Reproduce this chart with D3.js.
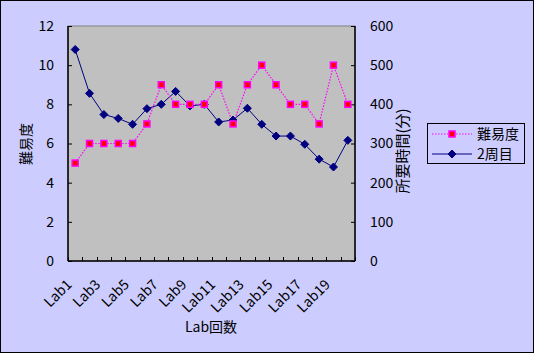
<!DOCTYPE html>
<html><head><meta charset="utf-8">
<script src="https://cdn.jsdelivr.net/npm/d3@7"></script>
<style>body{margin:0;background:#fff}svg text{font-family:"Noto Sans CJK JP","Noto Sans",sans-serif;}</style>
</head><body><svg id="c" width="534" height="353"></svg>
<script>
const categories = ["Lab1","Lab2","Lab3","Lab4","Lab5","Lab6","Lab7","Lab8","Lab9","Lab10","Lab11","Lab12","Lab13","Lab14","Lab15","Lab16","Lab17","Lab18","Lab19","Lab20"];
const difficulty = [5,6,6,6,6,7,9,8,8,8,9,7,9,10,9,8,8,7,10,8];
const timeMinutes = [540,428,374,364,349,389,400,433,396,400,355,360,390,349,319,319,298,260,240,308];
const leftTicks = [0,2,4,6,8,10,12];
const rightTicks = [0,100,200,300,400,500,600];
const seriesNames = ["難易度","2周目"];
const axisTitles = {left:"難易度", right:"所要時間(分)", bottom:"Lab回数"};

const svg = d3.select("#c");
const W=534,H=353;
const P={l:68,r:355,t:26,b:261};
svg.append("rect").attr("x",0.5).attr("y",0.5).attr("width",W-1).attr("height",H-1).attr("fill","#CCCCFF").attr("stroke","#000");
svg.append("rect").attr("x",P.l).attr("y",P.t).attr("width",P.r-P.l).attr("height",P.b-P.t).attr("fill","#C0C0C0").attr("stroke","#808080");

const x = d3.scaleBand().domain(categories).range([P.l,P.r]).padding(0);
const yL = d3.scaleLinear().domain([0,12]).range([P.b,P.t]);
const yR = d3.scaleLinear().domain([0,600]).range([P.b,P.t]);
const cx = d => x(d)+x.bandwidth()/2;

// axes
const gL = svg.append("g").attr("transform",`translate(${P.l},0)`)
  .call(d3.axisLeft(yL).tickValues(leftTicks).tickSize(-4).tickPadding(14));
const gR = svg.append("g").attr("transform",`translate(${P.r},0)`)
  .call(d3.axisRight(yR).tickValues(rightTicks).tickSize(-4).tickPadding(15));
const gB = svg.append("g").attr("transform",`translate(0,${P.b})`)
  .call(d3.axisBottom(x).tickSize(-4).tickFormat(""));
// category boundary ticks
gB.selectAll(".tick").remove();
const bounds = categories.map(c=>x(c)).concat([P.r]);
gB.selectAll("line.bt").data(bounds).enter().append("line").attr("class","bt")
  .attr("x1",d=>Math.round(d)+0.5).attr("x2",d=>Math.round(d)+0.5).attr("y1",0).attr("y2",-4).attr("stroke","#000");
[gL,gR,gB].forEach(g=>{g.select(".domain").attr("stroke","#000").attr("stroke-width",1.5);
  g.selectAll(".tick line").attr("stroke","#000");
  g.selectAll(".tick text").attr("fill","#000").attr("font-size",14);});
gB.select(".domain").attr("d",`M${P.l},0H${P.r}`);
gL.select(".domain").attr("d",`M0,${P.t}V${P.b}`);
gR.select(".domain").attr("d",`M0,${P.t}V${P.b}`);

// x labels
svg.append("g").selectAll("text").data(categories.filter((d,i)=>i%2===0)).enter().append("text")
  .attr("transform",d=>`translate(${cx(d)-6},${P.b+21}) rotate(-45)`)
  .attr("text-anchor","end").attr("dy","0.35em").attr("font-size",14).attr("fill","#000").text(d=>d);

// titles
svg.append("text").attr("transform",`translate(31,144) rotate(-90)`).attr("text-anchor","middle").attr("font-size",14).text(axisTitles.left);
svg.append("text").attr("transform",`translate(403,151) rotate(-90)`).attr("text-anchor","middle").attr("dy","0.35em").attr("font-size",15).text(axisTitles.right);
svg.append("text").attr("x",211).attr("y",332).attr("text-anchor","middle").attr("font-size",14).text(axisTitles.bottom);

// series lines
const lineD = d3.line().x((d,i)=>cx(categories[i])).y(d=>yL(d));
const lineT = d3.line().x((d,i)=>cx(categories[i])).y(d=>yR(d));
svg.append("path").datum(timeMinutes).attr("d",lineT).attr("fill","none").attr("stroke","#000080").attr("stroke-width",1);
svg.append("path").datum(difficulty).attr("d",lineD).attr("fill","none").attr("stroke","#FF00FF").attr("stroke-width",1.2).attr("stroke-dasharray","1.5,1.5");
const diamond = (px,py,s)=>`M${px},${py-s}L${px+s},${py}L${px},${py+s}L${px-s},${py}Z`;
svg.append("g").selectAll("path").data(timeMinutes).enter().append("path")
  .attr("d",(d,i)=>diamond(cx(categories[i]),yR(d),4)).attr("fill","#000080").attr("stroke","#000080");
svg.append("g").selectAll("rect").data(difficulty).enter().append("rect")
  .attr("x",(d,i)=>cx(categories[i])-3).attr("y",d=>yL(d)-3).attr("width",6).attr("height",6)
  .attr("fill","#FF0000").attr("stroke","#FF00FF").attr("stroke-width",1.5);

// legend
const lg = svg.append("g");
lg.append("rect").attr("x",427.5).attr("y",123.5).attr("width",97).attr("height",40).attr("fill","#CCCCFF").attr("stroke","#000");
lg.append("line").attr("x1",432).attr("x2",472).attr("y1",134).attr("y2",134).attr("stroke","#FF00FF").attr("stroke-width",1.2).attr("stroke-dasharray","1.5,1.5");
lg.append("rect").attr("x",449).attr("y",131).attr("width",6).attr("height",6).attr("fill","#FF0000").attr("stroke","#FF00FF").attr("stroke-width",1.5);
lg.append("line").attr("x1",432).attr("x2",472).attr("y1",154).attr("y2",154).attr("stroke","#000080").attr("stroke-width",1);
lg.append("path").attr("d",diamond(452,154,4)).attr("fill","#000080").attr("stroke","#000080");
lg.append("text").attr("x",477).attr("y",134).attr("dy","0.35em").attr("font-size",14).text(seriesNames[0]);
lg.append("text").attr("x",477).attr("y",154).attr("dy","0.35em").attr("font-size",14).text(seriesNames[1]);
</script></body></html>
